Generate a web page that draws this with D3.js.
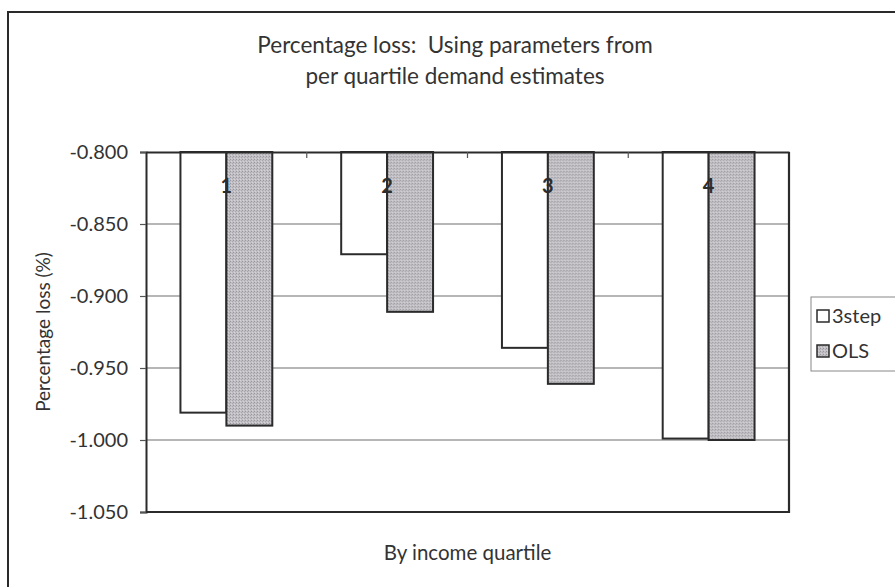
<!DOCTYPE html>
<html>
<head>
<meta charset="utf-8">
<script src="https://cdn.jsdelivr.net/npm/d3@7"></script>
<style>
  html, body { margin: 0; padding: 0; background: #fff; }
  svg { display: block; font-family: Lato, "Open Sans", sans-serif; }
</style>
</head>
<body>
<svg id="chart" width="895" height="587"></svg>
<script>
// Percentage loss per income quartile, two estimators
const quartiles = ["1", "2", "3", "4"];
const seriesNames = ["3step", "OLS"];
const threeStep = [-0.981, -0.871, -0.936, -0.999];
const ols = [-0.990, -0.911, -0.961, -1.000];
const yTicks = [-0.800, -0.850, -0.900, -0.950, -1.000, -1.050];
const titleLines = ["Percentage loss:  Using parameters from", "per quartile demand estimates"];

const rows = quartiles.map((q, i) => ({ q, values: [threeStep[i], ols[i]] }));

const svg = d3.select("#chart");
const W = 895, H = 587;
const plot = { left: 146, right: 789, top: 152, bottom: 512 };
const ink = "#333";

svg.append("rect").attr("width", W).attr("height", H).attr("fill", "#fff");

// chart frame (runs off the page on the right and bottom)
svg.append("rect")
  .attr("x", 8).attr("y", 12).attr("width", 920).attr("height", 620)
  .attr("fill", "none").attr("stroke", "#2a2a2a").attr("stroke-width", 2);

// stipple fill for the OLS bars
const defs = svg.append("defs");
const pat = defs.append("pattern").attr("id", "stipple")
  .attr("patternUnits", "userSpaceOnUse").attr("width", 3).attr("height", 3);
pat.append("rect").attr("width", 3).attr("height", 3).attr("fill", "#c2c0c4");
pat.append("rect").attr("x", 0).attr("y", 0).attr("width", 1).attr("height", 1).attr("fill", "#98969c");
pat.append("rect").attr("x", 2).attr("y", 1).attr("width", 1).attr("height", 1).attr("fill", "#a9a7ad");
pat.append("rect").attr("x", 1).attr("y", 2).attr("width", 1).attr("height", 1).attr("fill", "#d4d2d6");

const fills = { "3step": "#ffffff", "OLS": "url(#stipple)" };

const x0 = d3.scaleBand().domain(quartiles).range([plot.left, plot.right]).padding(0);
const x1 = d3.scaleBand().domain(seriesNames).range([0, x0.bandwidth()])
  .paddingInner(0).paddingOuter(0.75);
const y = d3.scaleLinear().domain([-1.05, -0.8]).range([plot.bottom, plot.top]);

// title (keeps the double space after the colon)
svg.append("text")
  .attr("x", 455).attr("y", 53)
  .attr("text-anchor", "middle").attr("fill", ink)
  .style("font-size", "22.5px")
  .style("white-space", "pre")
  .attr("xml:space", "preserve")
  .selectAll("tspan").data(titleLines).join("tspan")
  .attr("x", 455).attr("dy", (d, i) => i === 0 ? 0 : 31)
  .text(d => d);

// gridlines
svg.append("g").selectAll("line").data(yTicks.slice(1, -1)).join("line")
  .attr("x1", plot.left).attr("x2", plot.right)
  .attr("y1", d => y(d)).attr("y2", d => y(d))
  .attr("stroke", "#6f6f6f").attr("stroke-width", 1.2);

// bars
const groups = svg.append("g").selectAll("g").data(rows).join("g")
  .attr("transform", d => `translate(${x0(d.q)},0)`);
groups.selectAll("rect").data(d => d.values.map((v, i) => ({ name: seriesNames[i], v })))
  .join("rect")
  .attr("x", d => x1(d.name))
  .attr("width", x1.bandwidth())
  .attr("y", y(-0.8))
  .attr("height", d => y(d.v) - y(-0.8))
  .attr("fill", d => fills[d.name])
  .attr("stroke", "#2b2b2b").attr("stroke-width", 2);

// plot area border (right and bottom)
svg.append("path")
  .attr("d", `M${plot.right},${plot.top}V${plot.bottom}H${plot.left}`)
  .attr("fill", "none").attr("stroke", "#2b2b2b").attr("stroke-width", 2.2);

// y axis
const yAxis = d3.axisLeft(y).tickValues(yTicks).tickFormat(d3.format(".3f")).tickSize(6).tickPadding(12);
const yg = svg.append("g").attr("transform", `translate(${plot.left},0)`).call(yAxis);
yg.select(".domain").attr("stroke", "#2b2b2b").attr("stroke-width", 2);
yg.selectAll(".tick line").attr("stroke", "#555").attr("stroke-width", 1.2);
yg.selectAll(".tick text").attr("fill", ink)
  .style("font-size", "20px").style("font-family", "Lato, 'Open Sans', sans-serif")
  .text(d => d3.format(".3f")(d).replace("−", "-"));

// category axis along the top, with labels set just below it
const xAxis = d3.axisBottom(x0).tickSize(0).tickFormat("");
const xg = svg.append("g").attr("transform", `translate(0,${plot.top})`).call(xAxis);
xg.select(".domain").attr("stroke", "#2b2b2b").attr("stroke-width", 2.2);
xg.selectAll(".tick").remove();
xg.selectAll("line.divider").data(quartiles.slice(1)).join("line").attr("class", "divider")
  .attr("x1", d => x0(d)).attr("x2", d => x0(d))
  .attr("y1", 0).attr("y2", 6)
  .attr("stroke", "#555").attr("stroke-width", 1.2);
svg.append("g").selectAll("text").data(quartiles).join("text")
  .attr("x", d => x0(d) + x0.bandwidth() / 2)
  .attr("y", 193)
  .attr("text-anchor", "middle")
  .attr("fill", "#2d2d2d")
  .style("font-size", "20px").style("font-weight", "bold")
  .text(d => d);

// axis titles
svg.append("text")
  .attr("transform", `translate(50,${(plot.top + plot.bottom) / 2}) rotate(-90)`)
  .attr("text-anchor", "middle").attr("fill", ink)
  .style("font-size", "19px")
  .text("Percentage loss (%)");
svg.append("text")
  .attr("x", (plot.left + plot.right) / 2).attr("y", 560)
  .attr("text-anchor", "middle").attr("fill", ink)
  .style("font-size", "20.5px")
  .text("By income quartile");

// legend
const lg = svg.append("g").attr("transform", "translate(811,297)");
lg.append("rect").attr("width", 100).attr("height", 74)
  .attr("fill", "#fff").attr("stroke", "#888").attr("stroke-width", 1);
const items = lg.selectAll("g").data(seriesNames).join("g")
  .attr("transform", (d, i) => `translate(6,${13 + i * 35})`);
items.append("rect").attr("width", 12).attr("height", 12)
  .attr("fill", d => fills[d]).attr("stroke", "#2b2b2b").attr("stroke-width", 1.5);
items.append("text").attr("x", 15).attr("y", 13)
  .attr("fill", ink).style("font-size", "20px")
  .text(d => d);
</script>
</body>
</html>
